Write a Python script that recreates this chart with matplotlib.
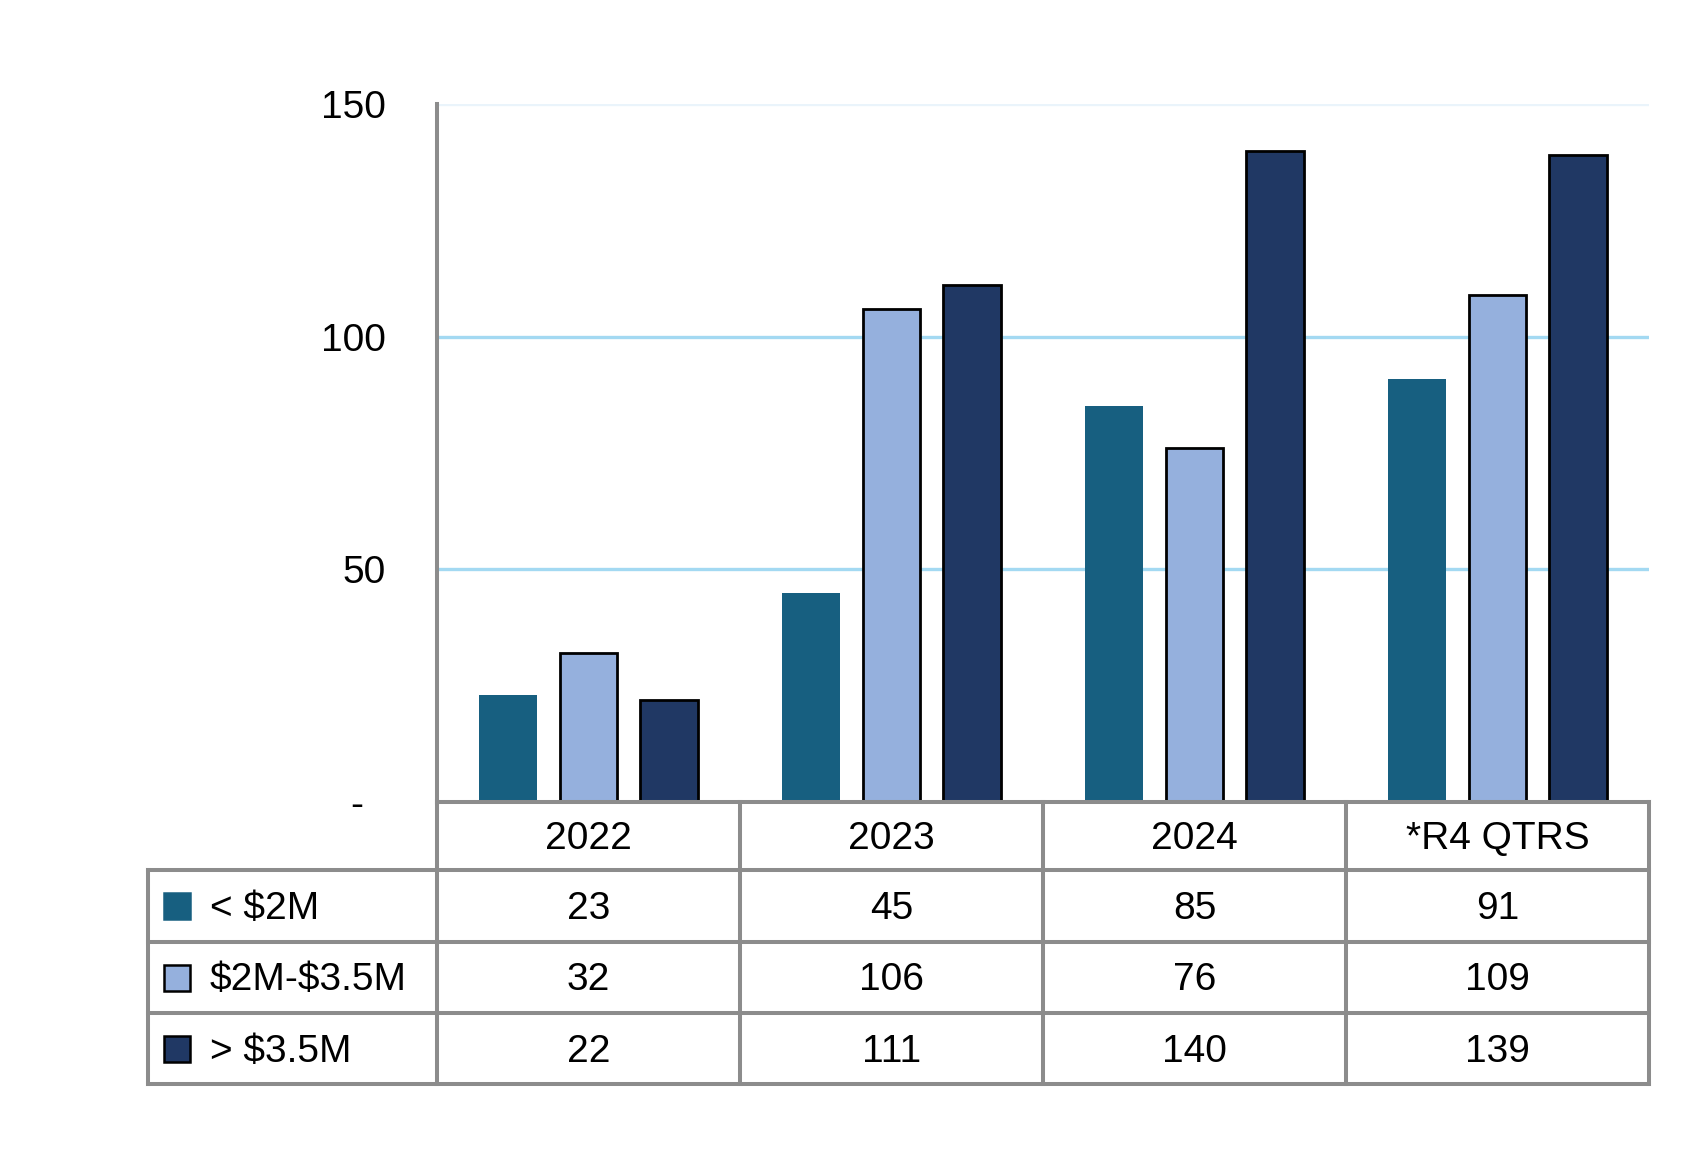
import matplotlib
matplotlib.use("Agg")
import matplotlib.pyplot as plt
import numpy as np

categories = ["2022", "2023", "2024", "*R4 QTRS"]
series_names = ["< $2M", "$2M-$3.5M", "> $3.5M"]
lt2 = [23, 45, 85, 91]
mid = [32, 106, 76, 109]
gt35 = [22, 111, 140, 139]
series_values = [lt2, mid, gt35]
yticks = [0, 50, 100, 150]
ytick_labels = ["-  ", "50", "100", "150"]

colors = ["#175F80", "#95B0DD", "#203864"]
edges = ["none", "black", "black"]
grid_colors = ["none", "#A3D9F2", "#A3D9F2", "#EAF4FB"]
gray = "#8C8C8C"
plt.rcParams["font.family"] = ["Liberation Sans", "DejaVu Sans"]
plt.rcParams["text.parse_math"] = False
FS = 28

W, H = 1699, 1155
fig = plt.figure(figsize=(W / 100, H / 100), dpi=100)

# pixel geometry
x_axis, x_right = 437, 1649
y_top, y_zero = 104, 802
tbl_left = 148
row_lines = [802, 870, 942, 1013, 1084]

ax = fig.add_axes([x_axis / W, 1 - y_zero / H, (x_right - x_axis) / W, (y_zero - y_top) / H])
ax.set_xlim(0, len(categories))
ax.set_ylim(0, 150)
for v, c in zip(yticks, grid_colors):
    if c != "none":
        ax.axhline(v, color=c, lw=2.4, zorder=1)

x = np.arange(len(categories)) + 0.5
offsets = [-0.265, 0.0, 0.265]
for vals, off, col, ec in zip(series_values, offsets, colors, edges):
    ax.bar(x + off, vals, width=0.19, color=col, edgecolor=ec,
           linewidth=2.0 if ec != "none" else 0, zorder=3)

ax.set_xticks([])
ax.set_yticks(yticks)
ax.set_yticklabels(ytick_labels, fontsize=FS)
ax.tick_params(axis="y", length=0, pad=37)
for s in ["top", "right", "bottom"]:
    ax.spines[s].set_visible(False)
ax.spines["left"].set_color(gray)
ax.spines["left"].set_linewidth(2.9)

# table axes in pixel coordinates
tax = fig.add_axes([tbl_left / W, 1 - row_lines[-1] / H, (x_right - tbl_left) / W,
                    (row_lines[-1] - row_lines[0]) / H])
tax.set_xlim(tbl_left, x_right)
tax.set_ylim(row_lines[-1], row_lines[0])
tax.axis("off")
ncat = len(categories)
colw = (x_right - x_axis) / ncat
col_lines = [x_axis + i * colw for i in range(ncat + 1)]
lw = 2.9
kw = dict(color=gray, lw=lw, clip_on=False, solid_capstyle="projecting")
tax.plot([x_axis, x_right], [row_lines[0]] * 2, **kw)
for yl in row_lines[1:]:
    tax.plot([tbl_left, x_right], [yl, yl], **kw)
tax.plot([tbl_left, tbl_left], [row_lines[1], row_lines[-1]], **kw)
for xl in col_lines:
    tax.plot([xl, xl], [row_lines[0], row_lines[-1]], **kw)

# header
for i, cat in enumerate(categories):
    tax.text(x_axis + (i + 0.5) * colw, (row_lines[0] + row_lines[1]) / 2 + 3, cat,
             ha="center", va="center", fontsize=FS)
# rows
for r, (name, vals, col, ec) in enumerate(zip(series_names, series_values, colors, edges)):
    yc = (row_lines[r + 1] + row_lines[r + 2]) / 2
    tax.add_patch(plt.Rectangle((164, yc - 13), 26, 26, facecolor=col,
                                edgecolor=ec if ec != "none" else col, lw=1.8, clip_on=False))
    tax.text(210, yc + 3, name, ha="left", va="center", fontsize=FS)
    for i, v in enumerate(vals):
        tax.text(x_axis + (i + 0.5) * colw, yc + 3, str(v), ha="center", va="center", fontsize=FS)

fig.savefig("out.png", dpi=100, facecolor="white")
